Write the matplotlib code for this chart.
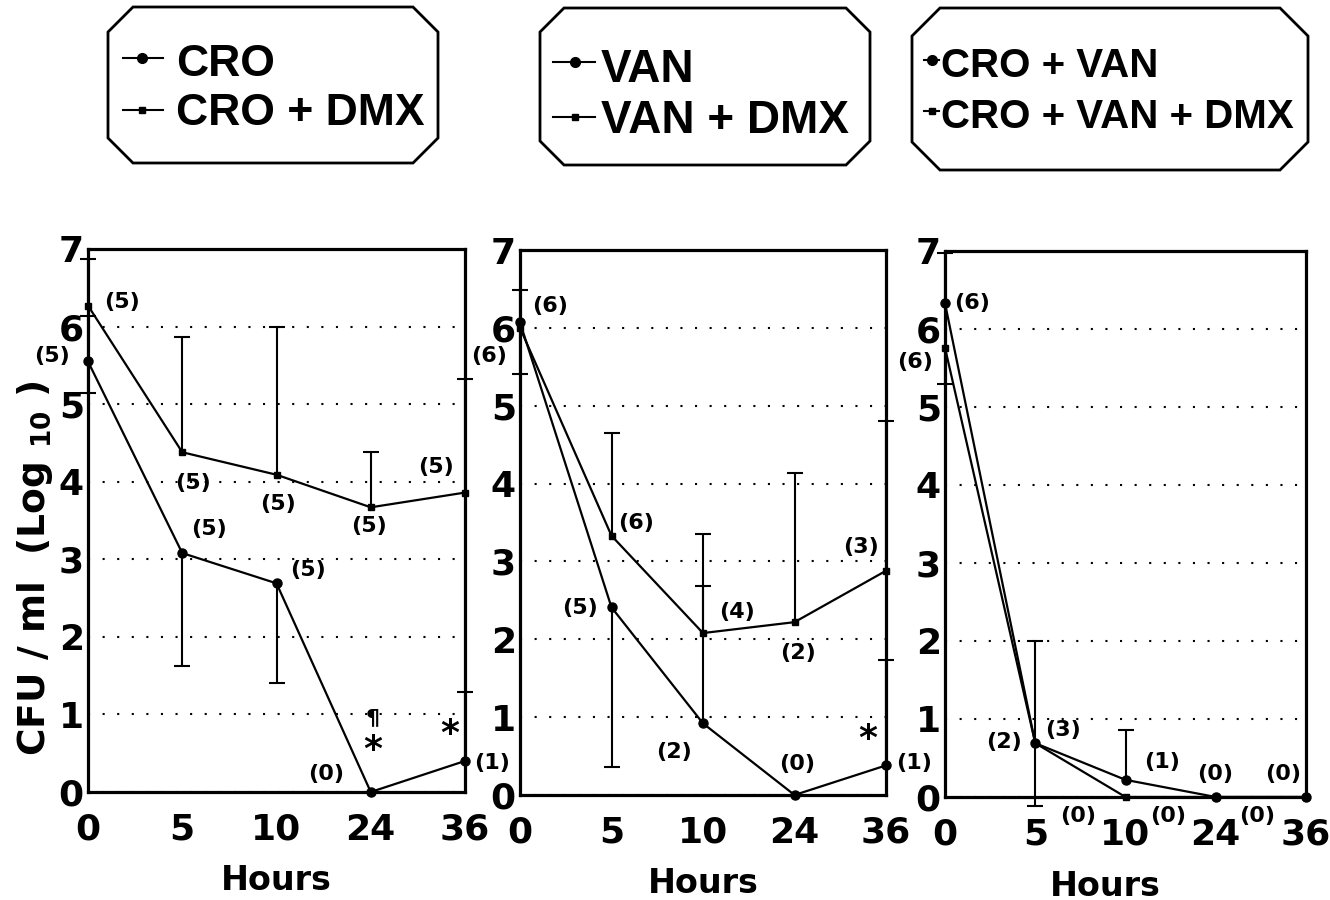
import numpy as np
import matplotlib.pyplot as plt
from matplotlib.patches import Polygon
from matplotlib.lines import Line2D

plt.rcParams['font.family'] = 'DejaVu Sans'
plt.rcParams['font.weight'] = 'bold'
plt.rcParams['axes.labelweight'] = 'bold'

hours = ['0', '5', '10', '24', '36']

# panel 1 : CRO / CRO + DMX
cro = [5.55, 3.08, 2.69, 0.0, 0.40]
cro_lo = [0.40, 1.45, 1.29, None, None]
cro_hi = [0.59, None, None, None, 0.89]
cro_dmx = [6.27, 4.38, 4.09, 3.67, 3.86]
cro_dmx_lo = [None, None, None, None, None]
cro_dmx_hi = [0.60, 1.48, 1.91, 0.71, 1.46]

# panel 2 : VAN / VAN + DMX
van = [6.07, 2.41, 0.92, 0.0, 0.38]
van_lo = [None, 2.05, None, None, None]
van_hi = [0.42, None, 1.76, None, 1.35]
van_dmx = [6.00, 3.33, 2.08, 2.22, 2.88]
van_dmx_lo = [0.59, None, None, None, None]
van_dmx_hi = [None, 1.32, 1.27, 1.91, 1.93]

# panel 3 : CRO + VAN / CRO + VAN + DMX
cv = [6.33, 0.69, 0.22, 0.0, 0.0]
cv_lo = [None, None, None, None, None]
cv_hi = [0.64, 1.31, 0.64, None, None]
cvd = [5.76, 0.69, 0.0, 0.0, 0.0]
cvd_lo = [0.47, 0.81, None, None, None]
cvd_hi = [None, None, None, None, None]

# (series, index, text, dx px, dy px)
notes1 = [(cro_dmx, 0, '(5)', 34, 4), (cro, 0, '(5)', -36, 5),
          (cro_dmx, 1, '(5)', 11, -31), (cro_dmx, 2, '(5)', 2, -29),
          (cro_dmx, 3, '(5)', -2, -19), (cro_dmx, 4, '(5)', -29, 26),
          (cro, 1, '(5)', 27, 24), (cro, 2, '(5)', 31, 13),
          (cro, 3, '(0)', -45, 18), (cro, 4, '(1)', 27, -2)]
notes2 = [(van, 0, '(6)', 30, 16), (van_dmx, 0, '(6)', -31, -28),
          (van_dmx, 1, '(6)', 25, 13), (van, 1, '(5)', -31, -1),
          (van_dmx, 2, '(4)', 34, 21), (van_dmx, 3, '(2)', 3, -31),
          (van, 2, '(2)', -29, -29), (van, 3, '(0)', 3, 31),
          (van_dmx, 4, '(3)', -25, 24), (van, 4, '(1)', 28, 2)]
notes3 = [(cv, 0, '(6)', 27, 0), (cvd, 0, '(6)', -30, -14),
          (cvd, 1, '(2)', -31, 1), (cv, 1, '(3)', 28, 13),
          (cv, 2, '(1)', 37, 18), (cv, 3, '(0)', -1, 23),
          (cv, 4, '(0)', -23, 23), (cvd, 2, '(0)', -47, -19),
          (cvd, 3, '(0)', -48, -19), (cvd, 4, '(0)', -49, -19)]
marks1 = [(cro, 3, '¶', 2, 74, 16), (cro, 3, '*', 2, 42, 26), (cro, 4, '*', -15, 27, 26)]
marks2 = [(van, 4, '*', -18, 26, 26)]
marks3 = []

panels = [
    ([88, 792, 465, 249], cro, cro_lo, cro_hi, cro_dmx, cro_dmx_lo, cro_dmx_hi, notes1, marks1, 0.5),
    ([520, 795, 886, 250], van, van_lo, van_hi, van_dmx, van_dmx_lo, van_dmx_hi, notes2, marks2, 0.5),
    ([945, 797, 1306, 251], cv, cv_lo, cv_hi, cvd, cvd_lo, cvd_hi, notes3, marks3, 0.443),
]

W, H = 1330, 900
fig = plt.figure(figsize=(13.3, 9), dpi=100)


def draw_err(ax, vals, lo, hi):
    for i, v in enumerate(vals):
        for e, s in ((lo[i], -1), (hi[i], 1)):
            if e is None:
                continue
            ax.vlines(i, v, v + s * e, color='black', lw=1.5, clip_on=False, zorder=2)
            ax.plot(i, v + s * e, marker='_', ms=12, mew=1.5, color='black',
                    clip_on=False, zorder=2)


x = np.arange(len(hours))
axes = []
for k, (box, a, a_lo, a_hi, b, b_lo, b_hi, notes, marks, xl) in enumerate(panels):
    l, bt, r, t = box
    ax = fig.add_axes([l / W, 1 - bt / H, (r - l) / W, (bt - t) / H])
    ax.set_xlim(0, 4)
    ax.set_ylim(0, 7)
    ax.set_xticks(x)
    ax.set_xticklabels(hours)
    ax.set_yticks(range(8))
    ax.tick_params(length=0, labelsize=26)
    ax.tick_params(axis='x', pad=15)
    ax.tick_params(axis='y', pad=3)
    ax.yaxis.grid(True, color='black', linestyle=(0, (1, 6)), lw=1.5)
    ax.set_axisbelow(True)
    for sp in ax.spines.values():
        sp.set_linewidth(2.3)
    draw_err(ax, a, a_lo, a_hi)
    draw_err(ax, b, b_lo, b_hi)
    ax.plot(x, a, color='black', lw=1.6, marker='o', ms=6.5, clip_on=False, zorder=3)
    ax.plot(x, b, color='black', lw=1.6, marker='s', ms=4.5, clip_on=False, zorder=3)
    for s, i, txt, dx, dy in notes:
        ax.annotate(txt, (i, s[i]), xytext=(dx, dy), textcoords='offset pixels',
                    ha='center', va='center', fontsize=16, annotation_clip=False)
    for s, i, txt, dx, dy, fs in marks:
        ax.annotate(txt, (i, s[i]), xytext=(dx, dy), textcoords='offset pixels',
                    ha='center', va='center', fontsize=fs, annotation_clip=False)
    ax.set_xlabel('Hours', fontsize=24, fontweight='bold')
    ax.xaxis.set_label_coords(xl, -0.133)
    axes.append(ax)

fig.text(35 / W, 1 - 568 / H, r'CFU / ml  (Log $_{\mathbf{10}}$ )', rotation=90,
         ha='center', va='center', fontsize=27)

# legend boxes drawn in pixel coordinates
ov = fig.add_axes([0, 0, 1, 1])
ov.set_xlim(0, W)
ov.set_ylim(H, 0)
ov.axis('off')

legend_boxes = [
    ((108, 7, 438, 163, 25), ['CRO', 'CRO + DMX'], (123, 163, 142), (76, 125), (58, 110), 176, 32),
    ((540, 8, 870, 165, 24), ['VAN', 'VAN + DMX'], (553, 595, 575), (82, 133), (62, 117), 601, 33),
    ((912, 8, 1308, 170, 28), ['CRO + VAN', 'CRO + VAN + DMX'], (924, 939, 932), (77, 128), (60, 111), 941, 29),
]
legend_font = ['Liberation Sans', 'DejaVu Sans']
for (x0, y0, x1, y1, c), labels, (lx0, lx1, mx), bases, mys, tx, fs in legend_boxes:
    pts = [(x0 + c, y0), (x1 - c, y0), (x1, y0 + c), (x1, y1 - c),
           (x1 - c, y1), (x0 + c, y1), (x0, y1 - c), (x0, y0 + c)]
    ov.add_patch(Polygon(pts, closed=True, fill=False, edgecolor='black', lw=2))
    for j, (lab, base, my) in enumerate(zip(labels, bases, mys)):
        ov.add_line(Line2D([lx0, lx1], [my, my], color='black', lw=1.5))
        ov.plot(mx, my, marker='o' if j == 0 else 's', ms=7 if j == 0 else 5, color='black')
        ov.text(tx, base, lab, family=legend_font, fontsize=fs, fontweight='bold',
                ha='left', va='baseline')

fig.savefig('out.png', dpi=100)
